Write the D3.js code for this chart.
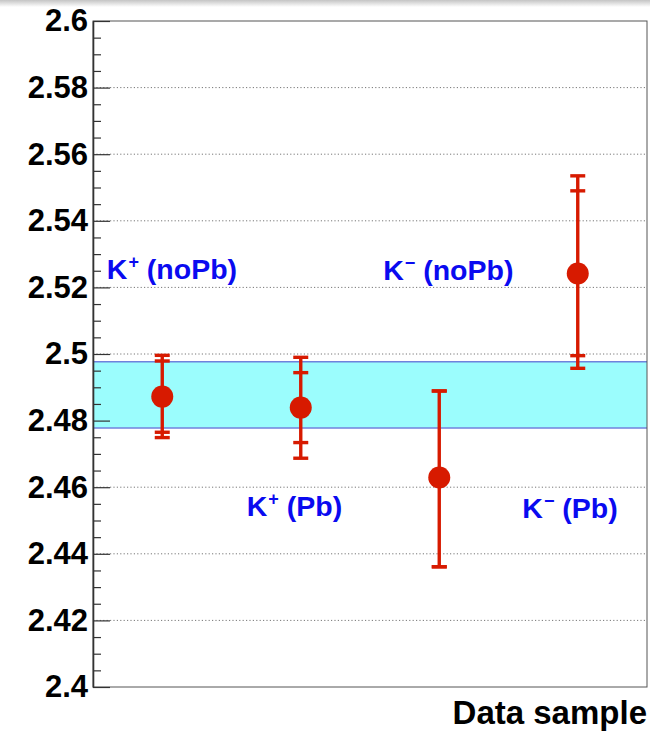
<!DOCTYPE html>
<html>
<head>
<meta charset="utf-8">
<script src="https://cdn.jsdelivr.net/npm/d3@7"></script>
<style>
  html, body { margin: 0; padding: 0; background: #fff; }
  svg { display: block; }
  text { font-family: "Liberation Sans", Arial, Helvetica, sans-serif; font-weight: bold; }
</style>
</head>
<body>
<svg id="chart" width="650" height="736"></svg>
<script>
// ---- data ----
const categories = ["K+ (noPb)", "K+ (Pb)", "K- (noPb)", "K- (Pb)"];
const means      = [2.4872, 2.4839, 2.4629, 2.5242];
const innerLow   = [2.4765, 2.4734, 2.4361, 2.4995];
const innerHigh  = [2.4979, 2.4944, 2.4889, 2.5490];
const outerLow   = [2.4749, 2.4687, 2.4361, 2.4957];
const outerHigh  = [2.4996, 2.4990, 2.4889, 2.5535];
const bandRange  = [2.4778, 2.4977];
const yTicks     = [2.4, 2.42, 2.44, 2.46, 2.48, 2.5, 2.52, 2.54, 2.56, 2.58, 2.6];
const labelBase  = ["K", "K", "K", "K"];
const labelSup   = ["+", "+", "\u2212", "\u2212"];
const labelRest  = [" (noPb)", " (Pb)", " (noPb)", " (Pb)"];
const labelX     = [0.10, 1.11, 2.095, 3.10];   // in category units
const labelY     = [2.5226, 2.4514, 2.5222, 2.4508];
const xTitle     = "Data sample";

// ---- layout ----
const W = 650, H = 736;
const L = 93, R = 647, T = 21, B = 687;
const svg = d3.select("#chart");

const x = d3.scaleLinear().domain([0, categories.length]).range([L, R]);
const y = d3.scaleLinear().domain([2.4, 2.6]).range([B, T]);

// top shadow
const defs = svg.append("defs");
const g1 = defs.append("linearGradient").attr("id", "shadow").attr("x1", 0).attr("y1", 0).attr("x2", 0).attr("y2", 1);
g1.append("stop").attr("offset", "0%").attr("stop-color", "#c4c4c4");
g1.append("stop").attr("offset", "100%").attr("stop-color", "#ffffff");
svg.append("rect").attr("x", 0).attr("y", 0).attr("width", W).attr("height", 7).attr("fill", "url(#shadow)");

// grid
svg.append("g").selectAll("line")
  .data(yTicks.filter(v => v > 2.4 && v < 2.6))
  .join("line")
  .attr("x1", L).attr("x2", R)
  .attr("y1", d => y(d)).attr("y2", d => y(d))
  .attr("stroke", "#777").attr("stroke-width", 1)
  .attr("stroke-dasharray", "1.2,2.2");

// band
svg.append("rect")
  .attr("x", L).attr("width", R - L)
  .attr("y", y(bandRange[1])).attr("height", y(bandRange[0]) - y(bandRange[1]))
  .attr("fill", "#9bfdfd");
svg.append("g").selectAll("line").data(bandRange).join("line")
  .attr("x1", L).attr("x2", R)
  .attr("y1", d => y(d)).attr("y2", d => y(d))
  .attr("stroke", "#6f82dc").attr("stroke-width", 1.5);

// frame
svg.append("rect")
  .attr("x", L).attr("y", T).attr("width", R - L).attr("height", B - T)
  .attr("fill", "none").attr("stroke", "#555").attr("stroke-width", 1);

// axis: minor ticks
const minorVals = d3.range(0, 41).map(i => 2.4 + i * 0.005).filter((v, i) => i % 4 !== 0);
const minorAxis = d3.axisLeft(y).tickValues(minorVals).tickSize(-8).tickFormat("").tickSizeOuter(0);
const gm = svg.append("g").attr("transform", `translate(${L},0)`).call(minorAxis);
gm.select(".domain").remove();
gm.selectAll("line").attr("stroke", "#333").attr("stroke-width", 1.2);

// axis: major ticks + labels
const majorAxis = d3.axisLeft(y).tickValues(yTicks).tickSize(-17).tickSizeOuter(0)
  .tickPadding(5).tickFormat(d => d3.format("")(+d.toFixed(2)));
const ga = svg.append("g").attr("transform", `translate(${L},0)`).call(majorAxis);
ga.select(".domain").attr("stroke", "#333").attr("stroke-width", 1.6);
ga.selectAll("line").attr("stroke", "#333").attr("stroke-width", 1.2);
ga.selectAll("text")
  .attr("font-size", 31).attr("font-weight", "bold").attr("fill", "#000")
  .attr("font-family", "'Liberation Sans', Arial, sans-serif");

// error bars
const red = "#d71a00";
const capW = 7.5;
const eb = svg.append("g");
categories.forEach((c, i) => {
  const cx = x(i + 0.5);
  eb.append("line").attr("x1", cx).attr("x2", cx)
    .attr("y1", y(outerLow[i])).attr("y2", y(outerHigh[i]))
    .attr("stroke", red).attr("stroke-width", 3.4);
  [innerLow[i], innerHigh[i], outerLow[i], outerHigh[i]].forEach(v => {
    eb.append("line").attr("x1", cx - capW).attr("x2", cx + capW)
      .attr("y1", y(v)).attr("y2", y(v))
      .attr("stroke", red).attr("stroke-width", 3.4);
  });
});
svg.append("g").selectAll("circle").data(means).join("circle")
  .attr("cx", (d, i) => x(i + 0.5)).attr("cy", d => y(d))
  .attr("r", 11).attr("fill", red);

// labels
const blue = "#0a0af0";
categories.forEach((c, i) => {
  const t = svg.append("text")
    .attr("x", x(labelX[i])).attr("y", y(labelY[i]))
    .attr("font-size", 28.5).attr("fill", blue);
  t.append("tspan").text(labelBase[i]);
  t.append("tspan").text(labelSup[i]).attr("font-size", 18).attr("dy", -11).attr("dx", 1);
  t.append("tspan").text(labelRest[i]).attr("dy", 11);
});

// x title
svg.append("text")
  .attr("x", R).attr("y", 724)
  .attr("text-anchor", "end")
  .attr("font-size", 33).attr("fill", "#000")
  .text(xTitle);
</script>
</body>
</html>
